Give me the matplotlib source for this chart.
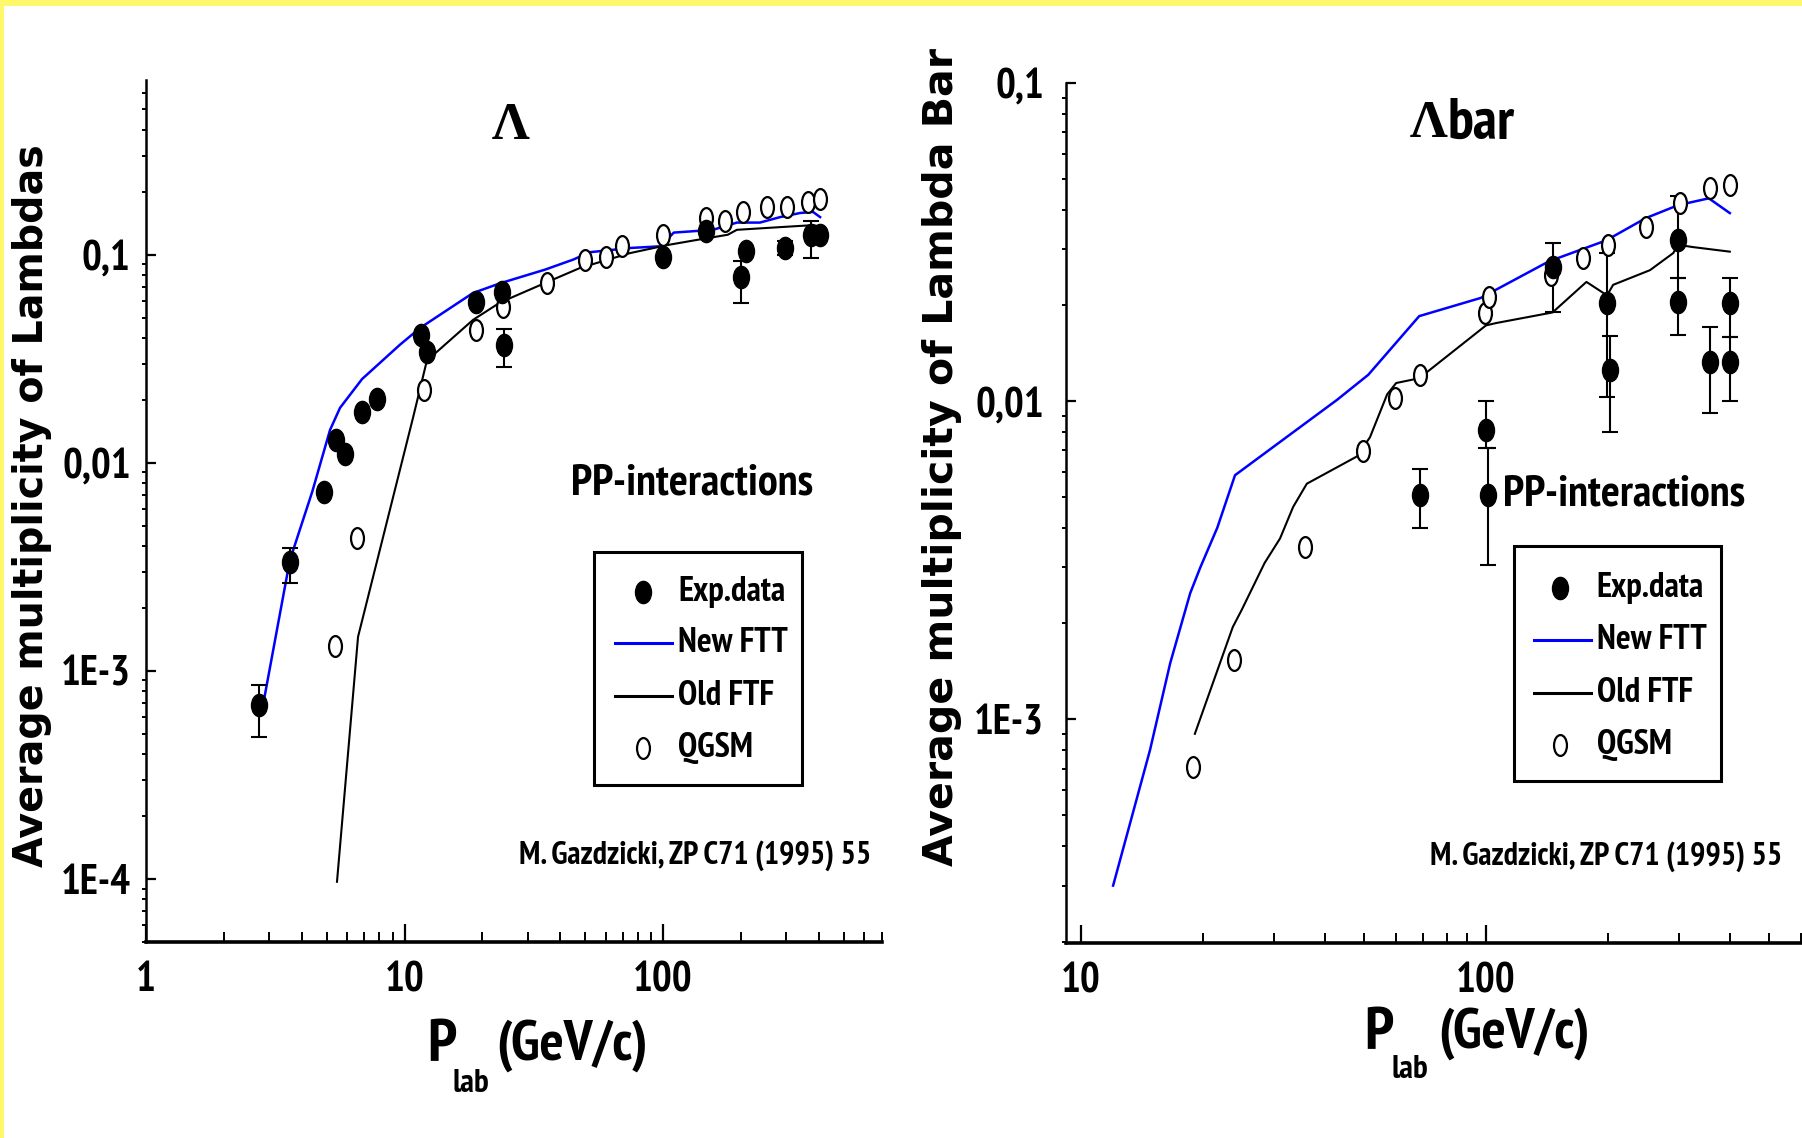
import os
import matplotlib
matplotlib.use("Agg")
import matplotlib.pyplot as plt
import numpy as np
from matplotlib import font_manager
from matplotlib.font_manager import FontProperties
from matplotlib.path import Path
from matplotlib.patches import Rectangle
from matplotlib.lines import Line2D
from matplotlib.ticker import FixedLocator, FixedFormatter, LogLocator, NullFormatter

# ---------------- data: Lambda (left panel) ----------------
lam_exp_x = [2.74, 3.61, 4.88, 5.43, 5.89, 6.85, 7.83, 11.6, 12.2, 18.9, 23.8, 24.2,
             100, 147, 200, 210, 297, 372, 405]
lam_exp_y = [6.9e-4, 3.34e-3, 7.26e-3, 0.0129, 0.011, 0.0176, 0.0203, 0.041, 0.034,
             0.0594, 0.0664, 0.037, 0.098, 0.13, 0.078, 0.104, 0.108, 0.125, 0.125]
lam_exp_lo = [2.1e-4, 6.9e-4, 0, 0, 0, 0, 0, 0, 0, 0, 0, 0.008,
              0, 0, 0.019, 0, 0.008, 0.028, 0]
lam_exp_hi = [1.7e-4, 5.6e-4, 0, 0, 0, 0, 0, 0, 0, 0, 0, 0.007,
              0, 0, 0.015, 0, 0.008, 0.02, 0]

lam_qgsm_x = [5.38, 6.55, 11.9, 18.9, 24.0, 35.6, 49.9, 60.2, 69.3, 100, 147, 174,
              204, 252, 302, 364, 405]
lam_qgsm_y = [1.32e-3, 4.36e-3, 0.0224, 0.0435, 0.056, 0.073, 0.0946, 0.098, 0.110,
              0.125, 0.151, 0.146, 0.161, 0.170, 0.170, 0.180, 0.186]

lam_new_x = [2.8, 3.6, 4.4, 5.15, 5.63, 6.85, 9.6, 11.5, 18.4, 23.4, 35, 45, 52, 75,
             98, 110, 156, 193, 237, 284, 339, 380, 405]
lam_new_y = [6.3e-4, 3.4e-3, 7.3e-3, 0.0144, 0.0184, 0.0253, 0.037, 0.0446, 0.0656,
             0.073, 0.085, 0.095, 0.103, 0.108, 0.110, 0.128, 0.132, 0.143, 0.143,
             0.152, 0.159, 0.161, 0.152]

lam_old_x = [5.48, 6.61, 10.8, 12.2, 18.4, 23.4, 35.6, 47.8, 74.5, 86, 106, 135, 178,
             193, 284, 380, 405]
lam_old_y = [9.7e-5, 1.46e-3, 0.0166, 0.031, 0.0487, 0.059, 0.074, 0.0866, 0.102,
             0.106, 0.112, 0.118, 0.125, 0.132, 0.136, 0.139, 0.137]

# ---------------- data: Lambda bar (right panel) ----------------
bar_exp_x = [68.7, 100, 101, 146, 199, 202, 298, 298, 357, 400, 400]
bar_exp_y = [5.06e-3, 8.1e-3, 5.06e-3, 0.0264, 0.0203, 0.0125, 0.032, 0.0205,
             0.0133, 0.0204, 0.0133]
bar_exp_lo = [1.06e-3, 1.0e-3, 2.0e-3, 0.0074, 0.010, 0.0045, 0.0076, 0.0044,
              0.0041, 0.0045, 0.0033]
bar_exp_hi = [1.04e-3, 1.9e-3, 2.04e-3, 0.005, 0.009, 0.0035, 0.012, 0.0039,
              0.0038, 0.004, 0.0026]

bar_qgsm_x = [18.9, 23.9, 35.7, 49.7, 59.6, 68.6, 99.5, 102, 145, 174, 200, 249, 301,
              357, 400]
bar_qgsm_y = [7.06e-4, 1.53e-3, 3.47e-3, 6.97e-3, 0.0102, 0.0121, 0.0189, 0.0212,
              0.0249, 0.0282, 0.031, 0.0352, 0.042, 0.0467, 0.0478]

bar_new_x = [12.0, 14.8, 16.6, 18.6, 19.7, 21.7, 24.0, 42.9, 51.2, 68.4, 97, 143,
             198, 248, 298, 355, 400]
bar_new_y = [3.0e-4, 8.0e-4, 1.5e-3, 2.49e-3, 3.0e-3, 4.0e-3, 5.85e-3, 0.0101,
             0.0121, 0.0185, 0.0211, 0.0275, 0.032, 0.0376, 0.0413, 0.0434, 0.039]

bar_old_x = [19.1, 23.7, 24.9, 28.4, 31.0, 33.4, 36.1, 48.0, 51.7, 57, 60, 68.4, 100,
             106, 146, 177, 199, 206, 254, 290, 298, 324, 400]
bar_old_y = [9.0e-4, 1.95e-3, 2.2e-3, 3.1e-3, 3.7e-3, 4.65e-3, 5.5e-3, 6.7e-3,
             7.7e-3, 0.0105, 0.0114, 0.0118, 0.0173, 0.0176, 0.019, 0.0237, 0.0215,
             0.0232, 0.0258, 0.0292, 0.031, 0.0305, 0.0295]

# tick labels
lam_xticks = [1, 10, 100]
lam_xticklabels = ["1", "10", "100"]
lam_yticks = [1e-4, 1e-3, 1e-2, 1e-1]
lam_yticklabels = ["1E-4", "1E-3", "0,01", "0,1"]
bar_xticks = [10, 100]
bar_xticklabels = ["10", "100"]
bar_yticks = [1e-3, 1e-2, 1e-1]
bar_yticklabels = ["1E-3", "0,01", "0,1"]

legend_labels = ["Exp.data", "New FTT", "Old FTF", "QGSM"]

# ---------------- fonts ----------------
def _wnum(w):
    if isinstance(w, (int, float)):
        return w
    return {"bold": 700, "heavy": 800, "black": 900, "semibold": 600,
            "demibold": 600, "medium": 500}.get(str(w).lower(), 400)


def find_condensed(bold=True):
    best, bscore = None, -1
    for f in font_manager.fontManager.ttflist:
        if f.style != "normal":
            continue
        w = _wnum(f.weight)
        if bold and w < 600:
            continue
        if not bold and w >= 600:
            continue
        nm = f.name.lower()
        fn = os.path.basename(f.fname).lower()
        st = str(f.stretch).lower()
        if "narrow" in nm or "narrow" in fn:
            s = 10
        elif "condensed" in nm or "condensed" in fn or "condensed" in st:
            s = 5
            if "roboto" in nm or "roboto" in fn:
                s = 8
            if "semi" in fn or "semi" in st:
                s -= 2
            if "extra" in fn or "extra" in st:
                s += 1
        else:
            continue
        if s > bscore:
            best, bscore = f, s
    return best.fname if best else None


COND_FILE = find_condensed(True)


def cfp(size):
    if COND_FILE:
        return FontProperties(fname=COND_FILE, size=size)
    return FontProperties(family="Liberation Sans", weight="bold", stretch="condensed",
                          size=size)


def sfp(size, family="DejaVu Sans"):
    return FontProperties(family=family, weight="bold", size=size)


SERIF = "Liberation Serif"

# ---------------- markers ----------------
def ellipse_marker(ratio):
    c = Path.unit_circle()
    v = c.vertices.copy()
    v[:, 0] *= ratio
    return Path(v, c.codes)

EXP_M = ellipse_marker(0.72)
QG_M = ellipse_marker(0.62)

W, H = 1802, 1138
fig = plt.figure(figsize=(W / 100, H / 100), dpi=100)
fig.patch.set_facecolor("white")

# yellow frame (top and left)
fig.patches.append(Rectangle((0, 1 - 6 / H), 1, 6 / H, transform=fig.transFigure,
                             facecolor="#fff86a", edgecolor="none", zorder=10))
fig.patches.append(Rectangle((0, 0), 4 / W, 1, transform=fig.transFigure,
                             facecolor="#fff86a", edgecolor="none", zorder=10))


def px_axes(x0, x1, ytop, ybot):
    return fig.add_axes([x0 / W, 1 - ybot / H, (x1 - x0) / W, (ybot - ytop) / H])


def style_axes(ax, xt, xtl, yt, ytl, ypad):
    ax.set_xscale("log")
    ax.set_yscale("log")
    for s in ["top", "right"]:
        ax.spines[s].set_visible(False)
    ax.spines["bottom"].set_linewidth(2.6)
    ax.spines["left"].set_linewidth(1.8)
    ax.xaxis.set_major_locator(FixedLocator(xt))
    ax.xaxis.set_major_formatter(FixedFormatter(xtl))
    ax.yaxis.set_major_locator(FixedLocator(yt))
    ax.yaxis.set_major_formatter(FixedFormatter(ytl))
    ax.xaxis.set_minor_locator(LogLocator(base=10, subs=np.arange(2, 10), numticks=20))
    ax.yaxis.set_minor_locator(LogLocator(base=10, subs=np.arange(2, 10), numticks=20))
    ax.xaxis.set_minor_formatter(NullFormatter())
    ax.yaxis.set_minor_formatter(NullFormatter())
    ax.tick_params(axis="x", which="major", direction="in", length=13, width=1.6, pad=14)
    ax.tick_params(axis="x", which="minor", direction="in", length=7, width=1.4)
    ax.tick_params(axis="y", which="major", direction="in", length=7, width=1.6, pad=ypad)
    ax.tick_params(axis="y", which="minor", direction="out", length=3, width=1.4)
    for lab in ax.get_xticklabels() + ax.get_yticklabels():
        lab.set_fontproperties(cfp(30))
    ax.patch.set_alpha(0)


def draw_panel(ax, ex, ey, elo, ehi, qx, qy, nx, ny, ox, oy):
    ax.plot(nx, ny, color="#0000ff", lw=1.8, zorder=2)
    ax.plot(ox, oy, color="black", lw=1.5, zorder=2)
    ex = np.array(ex); ey = np.array(ey)
    elo = np.array(elo); ehi = np.array(ehi)
    m = (elo > 0) | (ehi > 0)
    ax.errorbar(ex[m], ey[m], yerr=[elo[m], ehi[m]], fmt="none", ecolor="black",
                elinewidth=1.5, capsize=6, capthick=1.5, zorder=3)
    ax.plot(qx, qy, linestyle="none", marker=QG_M, markersize=15,
            markerfacecolor="white", markeredgecolor="black", markeredgewidth=1.6, zorder=4)
    ax.plot(ex, ey, linestyle="none", marker=EXP_M, markersize=16,
            markerfacecolor="black", markeredgecolor="black", zorder=5)


def draw_legend(ax, bx0, bx1, by0, by1, ys, mx, lx0, lx1, tx):
    ax.add_patch(Rectangle((bx0, by0), bx1 - bx0, by1 - by0, transform=ax.transAxes,
                           facecolor="white", edgecolor="black", lw=2.2, zorder=6))
    ax.add_line(Line2D([mx], [ys[0]], transform=ax.transAxes, marker=EXP_M,
                       markersize=16, color="black", zorder=7))
    ax.add_line(Line2D([lx0, lx1], [ys[1], ys[1]], transform=ax.transAxes,
                       color="#0000ff", lw=2.2, zorder=7))
    ax.add_line(Line2D([lx0, lx1], [ys[2], ys[2]], transform=ax.transAxes,
                       color="black", lw=2.2, zorder=7))
    ax.add_line(Line2D([mx], [ys[3]], transform=ax.transAxes, marker=QG_M,
                       markersize=15, markerfacecolor="white", markeredgecolor="black",
                       markeredgewidth=1.6, zorder=7))
    for y, t in zip(ys, legend_labels):
        ax.text(tx, y, t, transform=ax.transAxes, ha="left", va="center",
                fontproperties=cfp(25), zorder=8)


# ---------------- left panel ----------------
axL = px_axes(146, 882, 80, 942)
axL.set_xlim(1, 703)
axL.set_ylim(4.98e-5, 0.693)
style_axes(axL, lam_xticks, lam_xticklabels, lam_yticks, lam_yticklabels, 11)
draw_panel(axL, lam_exp_x, lam_exp_y, lam_exp_lo, lam_exp_hi, lam_qgsm_x, lam_qgsm_y,
           lam_new_x, lam_new_y, lam_old_x, lam_old_y)
draw_legend(axL, 0.609, 0.891, 0.182, 0.452, [0.406, 0.347, 0.285, 0.225],
            0.675, 0.637, 0.715, 0.723)
axL.text(0.742, 0.532, "PP-interactions", transform=axL.transAxes, ha="center",
         va="center", fontproperties=cfp(32))
axL.text(0.746, 0.0998, "M. Gazdzicki, ZP C71 (1995) 55", transform=axL.transAxes,
         ha="center", va="center", fontproperties=cfp(23))
axL.text(0.496, 0.947, "Λ", transform=axL.transAxes, ha="center", va="center",
         fontproperties=sfp(38, SERIF))

# ---------------- right panel ----------------
axR = px_axes(1066, 1802, 83, 943)
axR.set_xlim(9.18, 603)
axR.set_ylim(1.98e-4, 0.1)
style_axes(axR, bar_xticks, bar_xticklabels, bar_yticks, bar_yticklabels, 16)
draw_panel(axR, bar_exp_x, bar_exp_y, bar_exp_lo, bar_exp_hi, bar_qgsm_x, bar_qgsm_y,
           bar_new_x, bar_new_y, bar_old_x, bar_old_y)
draw_legend(axR, 0.609, 0.890, 0.188, 0.462, [0.413, 0.352, 0.291, 0.230],
            0.671, 0.636, 0.713, 0.721)
axR.text(0.594, 0.522, "PP-interactions", transform=axR.transAxes, ha="left",
         va="center", fontproperties=cfp(32))
axR.text(0.734, 0.101, "M. Gazdzicki, ZP C71 (1995) 55", transform=axR.transAxes,
         ha="center", va="center", fontproperties=cfp(23))
axR.text(0.518, 0.952, "Λ", transform=axR.transAxes, ha="right", va="center",
         fontproperties=sfp(38, SERIF))
axR.text(0.518, 0.952, "bar", transform=axR.transAxes, ha="left", va="center",
         fontproperties=cfp(42))

# ---------------- axis labels ----------------
fig.text(32 / W, 1 - 506 / H, "Average multiplicity of Lambdas", rotation=90,
         ha="center", va="center", fontproperties=sfp(28.5))
fig.text(942 / W, 1 - 457 / H, "Average multiplicity of Lambda Bar", rotation=90,
         ha="center", va="center", fontproperties=sfp(29.5))

for (px, py, lx, ly, gx) in [(442, 1046, 471, 1084, 572), (1379, 1034, 1410, 1070, 1514)]:
    fig.text(px / W, 1 - py / H, "P", ha="center", va="center", fontproperties=cfp(44))
    fig.text(lx / W, 1 - ly / H, "lab", ha="center", va="center", fontproperties=cfp(24))
    fig.text(gx / W, 1 - py / H, "(GeV/c)", ha="center", va="center",
             fontproperties=cfp(41))

fig.savefig("out.png", dpi=100, facecolor="white")
